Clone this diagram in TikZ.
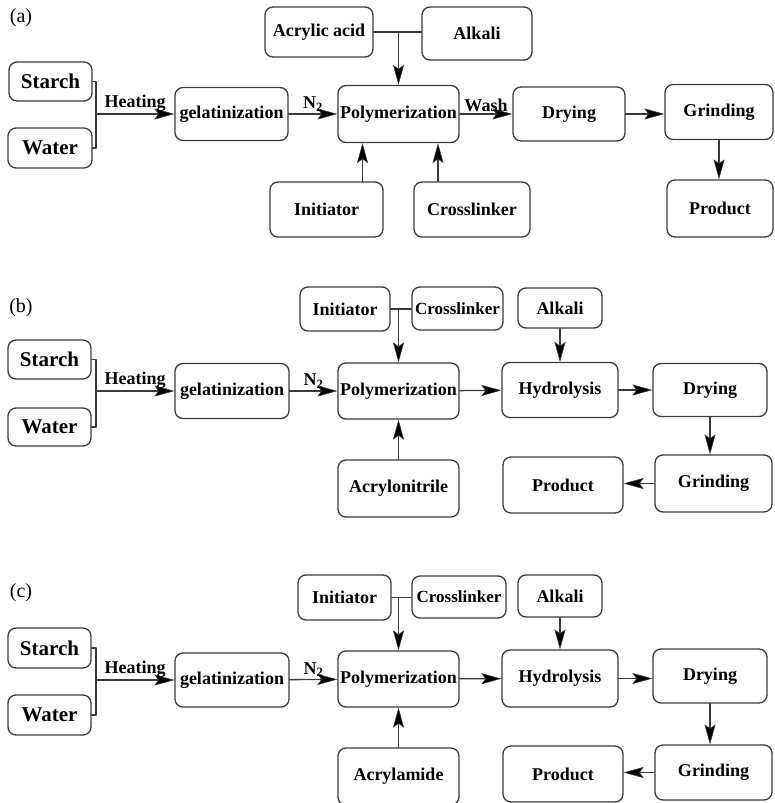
\documentclass[tikz,border=0pt]{standalone}
\usepackage{fontspec}
\setmainfont{Liberation Serif}
\usetikzlibrary{arrows.meta}
\definecolor{ln}{HTML}{3A3A3A}

\begin{document}
\begin{tikzpicture}[x=1pt, y=-1pt, line cap=round, line join=round,
    box/.style={draw=ln, line width=1.3pt, rounded corners=8pt, inner sep=0pt,
                font=\bfseries\fontsize{18}{20}\selectfont},
    big/.style={font=\bfseries\fontsize{21}{23}\selectfont},
    lab/.style={font=\bfseries\fontsize{18}{20}\selectfont, inner sep=2pt},
    tag/.style={font=\fontsize{20}{22}\selectfont},
    con/.style={draw=ln, line width=1.3pt},
    arr/.style={draw=ln, line width=1.3pt,
                -{Stealth[length=20pt,width=11pt,inset=4pt,fill=black,line width=0.5pt]}}]

\useasboundingbox (0,0) rectangle (774,803);
\clip (0,0) rectangle (774,803);

% (a)
\node[tag] (ta) at (21,18) {(a)};
\node[box, big, minimum width=83pt, minimum height=39pt] (sa) at (50.5,81.5) {Starch};
\node[box, big, minimum width=84pt, minimum height=40pt] (wa) at (50,148) {Water};
\node[box, minimum width=113pt, minimum height=53pt] (ga) at (231.5,114) {gelatinization};
\node[box, minimum width=121pt, minimum height=57pt] (pa) at (398.5,114) {Polymerization};
\node[box, minimum width=108pt, minimum height=50pt] (aa) at (319,32) {Acrylic acid};
\node[box, minimum width=110pt, minimum height=53pt] (ka) at (477,33.5) {Alkali};
\node[box, minimum width=113pt, minimum height=55pt] (ia) at (326.5,209.5) {Initiator};
\node[box, minimum width=116pt, minimum height=55pt] (ca) at (472,209.5) {Crosslinker};
\node[box, minimum width=112pt, minimum height=54pt] (da) at (569,114) {Drying};
\node[box, minimum width=108pt, minimum height=55pt] (ra) at (719,112) {Grinding};
\node[box, minimum width=106pt, minimum height=57pt] (oa) at (720,208.5) {Product};

\coordinate (ja) at (96,114);
\draw[con] (sa.east) -| (ja) |- (wa.east);
\draw[arr] (ja) -- node[lab, above] (heata) {Heating} (ga);
\draw[arr] (ga) -- node[lab, above] (n2a) {N\textsubscript{2}} (pa);
\draw[con] (aa.east) -- (aa.east -| ka.west);
\draw[arr] (aa.east -| pa.north) -- (pa.north);
\draw[arr] ([xshift=36pt]ia.north) -- ([xshift=36pt]ia.north |- pa.south);
\draw[arr] ([xshift=-34pt]ca.north) -- ([xshift=-34pt]ca.north |- pa.south);
\draw[arr] (pa) -- node[lab, above] (washa) {Wash} (da);
\draw[arr] (da.east) -- (da.east -| ra.west);
\draw[arr] (ra.south) -- (ra.south |- oa.north);

% (b)
\node[tag] (tb) at (21,308) {(b)};
\node[box, big, minimum width=83pt, minimum height=39pt] (sb) at (49.5,359.5) {Starch};
\node[box, big, minimum width=83pt, minimum height=38pt] (wb) at (49.5,427) {Water};
\node[box, minimum width=114pt, minimum height=55pt] (gb) at (232,391) {gelatinization};
\node[box, minimum width=121pt, minimum height=56pt] (pb) at (398.5,391) {Polymerization};
\node[box, minimum width=90pt, minimum height=44pt] (ib) at (345,309) {Initiator};
\node[box, minimum width=91pt, minimum height=43pt, font=\bfseries\fontsize{17}{19}\selectfont] (cb) at (457.5,308.5) {Crosslinker};
\node[box, minimum width=121pt, minimum height=57pt] (nb) at (398.5,488.5) {Acrylonitrile};
\node[box, minimum width=116pt, minimum height=55pt] (hb) at (560,390) {Hydrolysis};
\node[box, minimum width=84pt, minimum height=40pt] (kb) at (560,308) {Alkali};
\node[box, minimum width=114pt, minimum height=53pt] (db) at (710,390) {Drying};
\node[box, minimum width=117pt, minimum height=57pt] (rb) at (713.5,483.5) {Grinding};
\node[box, minimum width=120pt, minimum height=56pt] (ob) at (563,485) {Product};

\coordinate (jb) at (96,391);
\draw[con] (sb.east) -| (jb) |- (wb.east);
\draw[arr] (jb) -- node[lab, above] (heatb) {Heating} (gb);
\draw[arr] (gb) -- node[lab, above] (n2b) {N\textsubscript{2}} (pb);
\draw[con] (ib.east) -- (ib.east -| cb.west);
\draw[arr] (ib.east -| pb.north) -- (pb.north);
\draw[arr] (nb) -- (pb);
\draw[arr] (pb) -- (hb);
\draw[arr] (kb) -- (hb);
\draw[arr] (hb) -- (db);
\draw[arr] (db.south) -- (db.south |- rb.north);
\draw[arr] (rb.west) -- (rb.west -| ob.east);

% (c)
\node[tag] (tc) at (21,593) {(c)};
\node[box, big, minimum width=83pt, minimum height=40pt] (sc) at (49.5,648) {Starch};
\node[box, big, minimum width=83pt, minimum height=40pt] (wc) at (49.5,715) {Water};
\node[box, minimum width=114pt, minimum height=54pt] (gc) at (232,680) {gelatinization};
\node[box, minimum width=121pt, minimum height=56pt] (pc) at (398.5,679) {Polymerization};
\node[box, minimum width=93pt, minimum height=45pt] (ic) at (344.5,597.5) {Initiator};
\node[box, minimum width=94pt, minimum height=42pt, font=\bfseries\fontsize{17}{19}\selectfont] (cc) at (459,597) {Crosslinker};
\node[box, minimum width=121pt, minimum height=57pt] (mc) at (398.5,776.5) {Acrylamide};
\node[box, minimum width=116pt, minimum height=57pt] (hc) at (560,678.5) {Hydrolysis};
\node[box, minimum width=84pt, minimum height=42pt] (kc) at (560,596) {Alkali};
\node[box, minimum width=114pt, minimum height=54pt] (dc) at (710,676) {Drying};
\node[box, minimum width=117pt, minimum height=55pt] (rc) at (713.5,772.5) {Grinding};
\node[box, minimum width=120pt, minimum height=56pt] (oc) at (563,774) {Product};

\coordinate (jc) at (96,680);
\draw[con] (sc.east) -| (jc) |- (wc.east);
\draw[arr] (jc) -- node[lab, above] (heatc) {Heating} (gc);
\draw[arr] (gc) -- node[lab, above] (n2c) {N\textsubscript{2}} (pc);
\draw[con] (ic.east) -- (ic.east -| cc.west);
\draw[arr] (ic.east -| pc.north) -- (pc.north);
\draw[arr] (mc) -- (pc);
\draw[arr] (pc) -- (hc);
\draw[arr] (kc) -- (hc);
\draw[arr] (hc.east) -- (hc.east -| dc.west);
\draw[arr] (dc.south) -- (dc.south |- rc.north);
\draw[arr] (rc.west) -- (rc.west -| oc.east);
\end{tikzpicture}
\end{document}
